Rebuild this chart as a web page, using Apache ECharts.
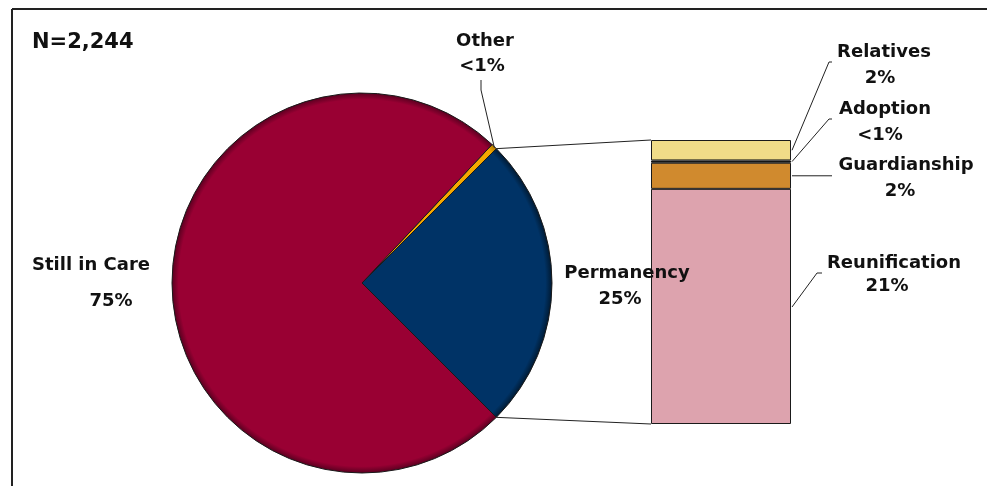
<!DOCTYPE html>
<html><head><meta charset="utf-8">
<script src="https://cdn.jsdelivr.net/npm/echarts@6/dist/echarts.min.js"></script>
<style>html,body{margin:0;padding:0;background:#fff}#c{width:987px;height:486px}</style>
</head><body><div id="c"></div>
<script>
// ---- data ----
var sampleLabel = 'N=2,244';
var pieNames = ['Other', 'Permanency', 'Still in Care'];
var pieValues = [0.5, 25, 74.5];
var pieLabels = ['<1%', '25%', '75%'];
var pieColors = ['#F5A800', '#003366', '#990033'];

var barNames = ['Reunification', 'Guardianship', 'Adoption', 'Relatives'];
var barValues = [20.7, 2.3, 0.2, 1.8];
var barLabels = ['21%', '2%', '<1%', '2%'];
var barColors = ['#DDA3AE', '#D08A2E', '#111111', '#F0DC88'];

// ---- layout ----
var cx = 362, cy = 283, R = 190;
var gLeft = 651, gTop = 140, gW = 140, gH = 284;
var font = '"DejaVu Sans", sans-serif';
var fs = 18;

var pieTotal = pieValues.reduce(function(a,b){return a+b;},0);
var barTotal = barValues.reduce(function(a,b){return a+b;},0);
var startAngle = pieValues[1]/pieTotal*180 + pieValues[0]/pieTotal*360;
var permStart = pieValues[1]/pieTotal*180;
var permEnd = -permStart;
function pt(a){ var r = a*Math.PI/180; return [cx + R*Math.cos(r), cy - R*Math.sin(r)]; }

var chart = echarts.init(document.getElementById('c'), null, {renderer:'canvas'});

function radial(c, dark){
  return {type:'radial', x:cx, y:cy, r:R, global:true,
    colorStops:[{offset:0,color:c},{offset:0.965,color:c},{offset:1,color:dark}]};
}
var pieDark = ['#b07a00', '#001a33', '#5a0020'];

var series = [{
  type:'pie', center:[cx,cy], radius:R, startAngle:startAngle, clockwise:true,
  animation:false, silent:true, label:{show:false}, labelLine:{show:false},
  itemStyle:{borderColor:'#1a1a1a', borderWidth:1},
  data: pieNames.map(function(n,i){return {name:n, value:pieValues[i], itemStyle:{color:radial(pieColors[i], pieDark[i])}};})
}];
barNames.forEach(function(n,i){
  series.push({type:'bar', name:n, stack:'s', barWidth:'100%', animation:false, silent:true,
    data:[barValues[i]], itemStyle:{color:barColors[i], borderColor:'#1a1a1a', borderWidth:1}});
});

function txt(x,y,t,size,align,fam){ return {type:'text', x:x, y:y, z:100,
  style:{text:t, font:'bold '+size+'px '+(fam||font), fill:'#111', align:align||'center', verticalAlign:'middle'}}; }
function poly(pts){ return {type:'polyline', z:90, shape:{points:pts}, style:{stroke:'#222', lineWidth:1, fill:null}}; }

var pTop = pt(permStart), pBot = pt(permEnd);
var yRel = gTop+gH*(1-(barTotal-barValues[3]*0.5)/barTotal);
var yAdo = gTop+gH*(1-(barTotal-barValues[3]-barValues[2]*0.5)/barTotal);
var yGua = gTop+gH*(1-(barValues[0]+barValues[1]*0.5)/barTotal);
var graphics = [
  {type:'line', shape:{x1:12,y1:9,x2:987,y2:9}, style:{stroke:'#222', lineWidth:2}},
  {type:'line', shape:{x1:12,y1:9,x2:12,y2:486}, style:{stroke:'#222', lineWidth:2}},
  txt(32,43,sampleLabel,21,'left'),
  txt(91,265,pieNames[2],fs), txt(111,301,pieLabels[2],fs),
  txt(627,273,pieNames[1],fs), txt(620,299,pieLabels[1],fs),
  txt(485,41,pieNames[0],fs), txt(482,66,pieLabels[0],fs),
  poly([[481,80],[481,90],[pTop[0]-2,pTop[1]-1]]),
  poly([pTop,[gLeft,gTop]]),
  poly([pBot,[gLeft,gTop+gH]]),
  txt(884,52,barNames[3],fs), txt(880,78,barLabels[3],fs),
  poly([[832,62],[829,62],[792,yRel]]),
  txt(885,109,barNames[2],fs), txt(880,135,barLabels[2],fs),
  poly([[832,119],[829,119],[792,yAdo]]),
  txt(906,165,barNames[1],fs), txt(900,191,barLabels[1],fs),
  poly([[792,yGua],[832,yGua]]),
  txt(894,263,barNames[0],fs), txt(887,286,barLabels[0],fs),
  poly([[792,307],[817,273],[822,273]])
];

chart.setOption({
  backgroundColor:'#fff',
  animation:false,
  grid:{left:gLeft, top:gTop, width:gW, height:gH},
  xAxis:{type:'category', data:['Permanency'], show:false},
  yAxis:{type:'value', min:0, max:barTotal, show:false},
  series: series,
  graphic: graphics
});
</script></body></html>
